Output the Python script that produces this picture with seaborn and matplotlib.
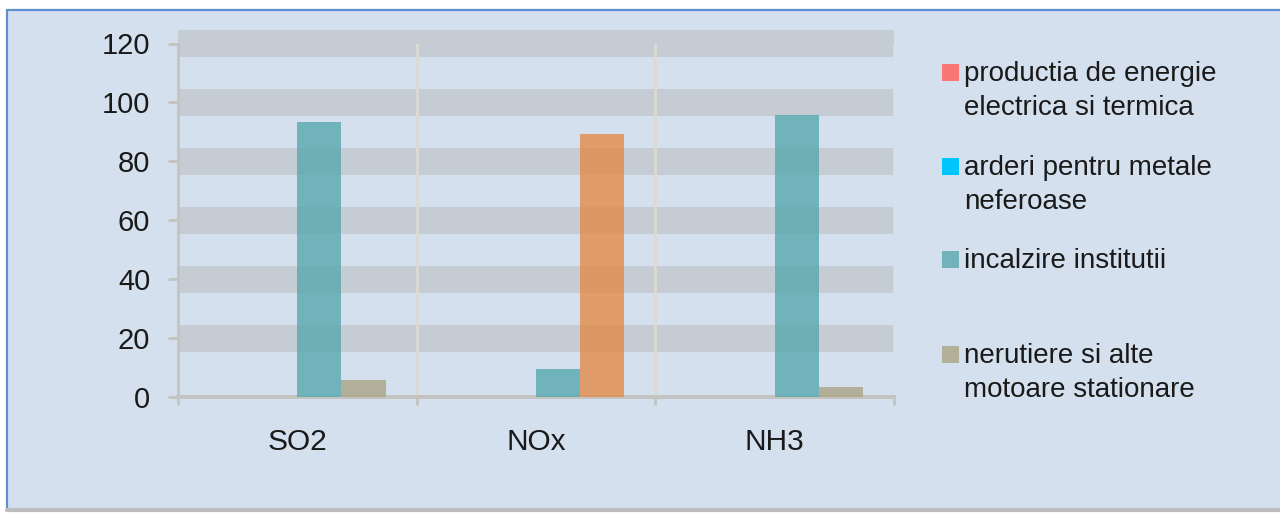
import numpy as np
import pandas as pd
import matplotlib
matplotlib.use('Agg')
import matplotlib.pyplot as plt
from matplotlib.patches import Rectangle
from matplotlib.lines import Line2D
import seaborn as sns

# ── data ─────────────────────────────────────────────────────
pollutants = ['SO2', 'NOx', 'NH3']
sources = [
    'productia de energie\nelectrica si termica',
    'arderi pentru metale\nneferoase',
    'incalzire institutii',
    'nerutiere si alte\nmotoare stationare',
]
productia  = [0.0, 0.0, 0.0]
arderi     = [0.0, 0.0, 0.0]
incalzire  = [93.3, 9.6, 95.7]
nerutiere  = [5.7, 89.2, 3.4]

bar_colors    = ['#f76b6b', '#00b8f5', '#57a8ae', '#aaa485']
legend_colors = ['#f87878', '#00c5ff', '#72b3bb', '#b3b09a']
odd_bar_color = '#e38b49'   # NOx bar of the last series is drawn orange in the original

yticks = [0, 20, 40, 60, 80, 100, 120]

BG = '#d5e0ef'
BAND = '#c5ccd3'
LINE = '#c3c3c0'

df = pd.DataFrame({
    'pollutant': pollutants * 4,
    'source': np.repeat(sources, 3),
    'value': productia + arderi + incalzire + nerutiere,
})

sns.set_theme(style='white')
plt.rcParams['font.family'] = ['Liberation Sans', 'DejaVu Sans']

W, H = 1280, 514
fig = plt.figure(figsize=(W / 100, H / 100), dpi=100, facecolor='white')

# ── frame of the picture ─────────────────────────────────────
fx = lambda px: px / W
fy = lambda py: 1 - py / H
fig.patches.append(Rectangle((fx(7), fy(508)), 1.0, fy(10) - fy(508),
                             transform=fig.transFigure, facecolor=BG,
                             edgecolor='none', zorder=-5))
fig.lines.append(Line2D([fx(7), 1.0], [fy(10), fy(10)], transform=fig.transFigure,
                        color='#5f8fcf', linewidth=1.6, zorder=-4))
fig.lines.append(Line2D([fx(7), fx(7)], [fy(10), fy(508)], transform=fig.transFigure,
                        color='#5f8fcf', linewidth=1.6, zorder=-4))
fig.lines.append(Line2D([fx(7), 1.0], [fy(510), fy(510)], transform=fig.transFigure,
                        color='#bdbdbd', linewidth=3, zorder=-4))

# ── axes ─────────────────────────────────────────────────────
ax = fig.add_axes([fx(178), fy(397), fx(894) - fx(178), fy(43.5) - fy(397)])
ax.patch.set_alpha(0)

sns.barplot(data=df, x='pollutant', y='value', hue='source',
            hue_order=sources, order=pollutants, palette=bar_colors,
            width=0.74, alpha=0.8, saturation=1, legend=False, ax=ax,
            zorder=3)
ax.containers[3][1].set_facecolor(odd_bar_color)
for cont in ax.containers:
    for p in cont:
        p.set_edgecolor('none')

# grey horizontal bands on the gridlines
for v in yticks[1:]:
    ax.axhspan(v - 4.6, v + 4.6, color=BAND, zorder=0.2, linewidth=0,
               clip_on=False)

ax.set_xlim(-0.5, 2.5)
ax.set_ylim(0, 120)
ax.set_yticks(yticks)
ax.set_xticks([0, 1, 2])
ax.set_xticks([-0.5, 0.5, 1.5, 2.5], minor=True)
for x in [0.5, 1.5, 2.5]:
    ax.axvline(x, color='#dcdad3', linewidth=2, zorder=0.5)

ax.set_xlabel('')
ax.set_ylabel('')
for s in ['top', 'right']:
    ax.spines[s].set_visible(False)
ax.spines['left'].set_color(LINE)
ax.spines['left'].set_linewidth(2)
ax.spines['bottom'].set_color(LINE)
ax.spines['bottom'].set_linewidth(2.8)

ax.tick_params(axis='y', left=True, length=7, width=2, color=LINE,
               pad=13, labelsize=21, labelcolor='#1a1a1a')
ax.tick_params(axis='x', which='major', length=0, pad=22, labelsize=21.5,
               labelcolor='#1a1a1a')
ax.tick_params(axis='x', which='minor', bottom=True, length=6, width=2,
               color=LINE)

# ── legend, drawn by hand so each entry has its own slot ─────
legend_y = [73, 167, 260, 355]   # centre of the first text line
for lbl, col, y in zip(sources, legend_colors, legend_y):
    fig.patches.append(Rectangle((fx(942), fy(y + 8)), fx(17), 17 / H,
                                 transform=fig.transFigure, facecolor=col,
                                 edgecolor='none'))
    fig.text(fx(964), fy(y - 12), lbl, fontsize=20, color='#1a1a1a',
             va='top', ha='left', linespacing=1.4)

plt.savefig('out.png', dpi=100, facecolor='white')
